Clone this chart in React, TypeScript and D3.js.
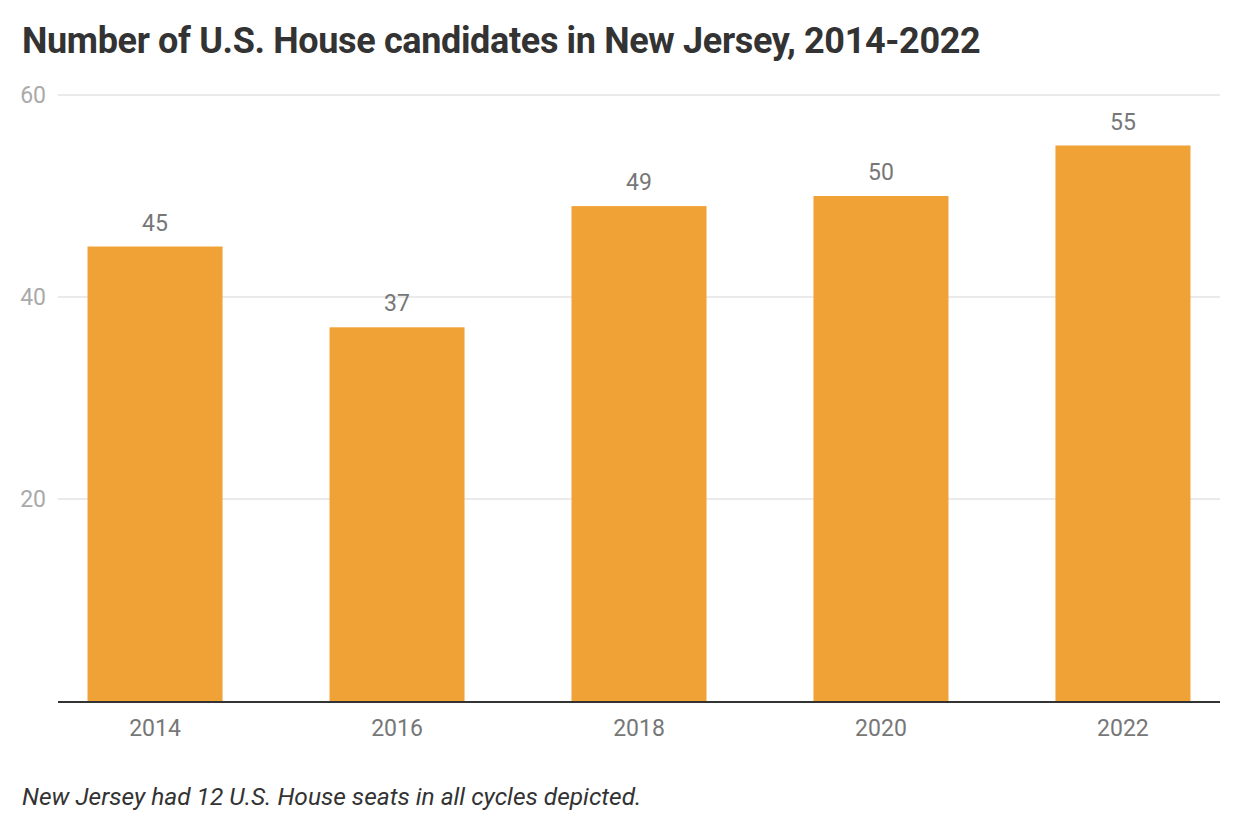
import React from "react";
import * as d3 from "d3";

const years = ["2014", "2016", "2018", "2020", "2022"];
const candidates = [45, 37, 49, 50, 55];
const yTicks = [20, 40, 60];

const W = 1240;
const H = 840;
const left = 58;
const right = 1220;
const top = 95;
const bottom = 701;

export default function App() {
  const x = d3
    .scaleBand<string>()
    .domain(years)
    .range([left, right])
    .paddingInner(0.442)
    .paddingOuter(0.122);
  const y = d3.scaleLinear().domain([0, 60]).range([bottom, top]);
  const font = "Roboto, 'Noto Sans', sans-serif";
  return (
    <svg width={W} height={H} style={{ position: "absolute", left: 0, top: 0 }} fontFamily={font}>
      <rect width={W} height={H} fill="#fff" />
      <text x={22} y={53} fontSize={36} fontWeight={700} fill="#333" letterSpacing={-0.35}>
        Number of U.S. House candidates in New Jersey, 2014-2022
      </text>
      {yTicks.map((t) => (
        <g key={t}>
          <line x1={left} x2={right} y1={y(t)} y2={y(t)} stroke="#e3e3e3" strokeWidth={1.5} />
          <text x={46} y={y(t)} dy="0.35em" textAnchor="end" fontSize={23} fill="#aaa">
            {t}
          </text>
        </g>
      ))}
      {years.map((yr, i) => (
        <g key={yr}>
          <rect
            x={x(yr)}
            y={y(candidates[i])}
            width={x.bandwidth()}
            height={bottom - y(candidates[i])}
            fill="#f0a236"
          />
          <text
            x={(x(yr) as number) + x.bandwidth() / 2}
            y={y(candidates[i]) - 16}
            textAnchor="middle"
            fontSize={23}
            fill="#777"
          >
            {candidates[i]}
          </text>
          <text
            x={(x(yr) as number) + x.bandwidth() / 2}
            y={736}
            textAnchor="middle"
            fontSize={23}
            fill="#777"
          >
            {yr}
          </text>
        </g>
      ))}
      <line x1={left} x2={right} y1={bottom + 1} y2={bottom + 1} stroke="#333" strokeWidth={2} />
      <text x={22} y={805} fontSize={24.5} fontStyle="italic" fill="#333">
        New Jersey had 12 U.S. House seats in all cycles depicted.
      </text>
    </svg>
  );
}
